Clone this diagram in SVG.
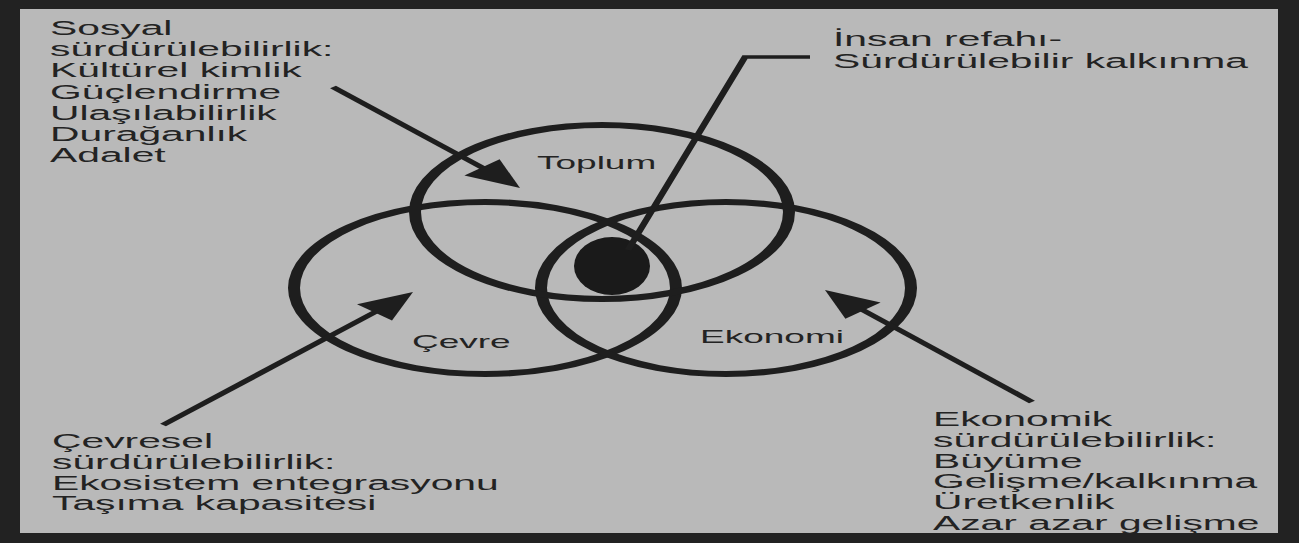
<svg xmlns="http://www.w3.org/2000/svg" width="1299" height="543" viewBox="0 0 1299 543">
<style>
.ring{fill:none;stroke:#1e1e1e;stroke-width:6}
.ln{fill:none;stroke:#1e1e1e;stroke-width:4;stroke-linecap:butt}
.head{fill:#1e1e1e}
.blk{font-family:"Liberation Sans",Arial,sans-serif;font-size:20.4px;fill:#232323}
.lbl{font-family:"Liberation Sans",Arial,sans-serif;font-size:18.5px;fill:#232323}
</style>
<rect x="0" y="0" width="1299" height="543" fill="#222222"/>
<rect x="20" y="9" width="1258" height="524" fill="#b9b9b9"/>

<g id="cevre" transform="scale(2,1)">
<ellipse class="ring" cx="242.5" cy="288" rx="95.5" ry="86"/>
<text class="lbl" x="206" y="348">Çevre</text>
</g>
<g id="ekonomi" transform="scale(2,1)">
<ellipse class="ring" cx="363" cy="288" rx="92.5" ry="86"/>
<text class="lbl" x="350" y="343">Ekonomi</text>
</g>
<g id="toplum" transform="scale(2,1)">
<ellipse class="ring" cx="301" cy="212" rx="93.5" ry="87"/>
<text class="lbl" x="268.5" y="169">Toplum</text>
</g>

<g id="insan-refahi" transform="scale(2,1)">
<ellipse cx="306" cy="266" rx="19" ry="29" fill="#1a1a1a"/>
<text class="blk"><tspan x="416.5" y="46">İnsan refahı-</tspan><tspan x="416.5" y="68">Sürdürülebilir kalkınma</tspan></text>
</g>

<g id="sosyal" transform="scale(2,1)">
<text class="blk">
<tspan x="25" y="35">Sosyal</tspan>
<tspan x="25" y="56.2">sürdürülebilirlik:</tspan>
<tspan x="25" y="77.4">Kültürel kimlik</tspan>
<tspan x="25" y="98.6">Güçlendirme</tspan>
<tspan x="25" y="119.8">Ulaşılabilirlik</tspan>
<tspan x="25" y="141">Durağanlık</tspan>
<tspan x="25" y="162.2">Adalet</tspan>
</text>
</g>

<g id="cevresel" transform="scale(2,1)">
<text class="blk">
<tspan x="26" y="448">Çevresel</tspan>
<tspan x="26" y="468.8">sürdürülebilirlik:</tspan>
<tspan x="26" y="489.6">Ekosistem entegrasyonu</tspan>
<tspan x="26" y="510.4">Taşıma kapasitesi</tspan>
</text>
</g>

<g id="ekonomik" transform="scale(2,1)">
<text class="blk">
<tspan x="466.5" y="426">Ekonomik</tspan>
<tspan x="466.5" y="446.8">sürdürülebilirlik:</tspan>
<tspan x="466.5" y="467.6">Büyüme</tspan>
<tspan x="466.5" y="488.4">Gelişme/kalkınma</tspan>
<tspan x="466.5" y="509.2">Üretkenlik</tspan>
<tspan x="466.5" y="530">Azar azar gelişme</tspan>
</text>
</g>

<g id="connectors" transform="scale(2,1)">
<line class="ln" x1="166.5" y1="87" x2="248" y2="175"/>
<polygon class="head" points="260,188 232.2,175.5 249.8,159.3"/>
<line class="ln" x1="81.5" y1="425" x2="196" y2="303"/>
<polygon class="head" points="206.5,292 196,320.6 178.5,304.2"/>
<line class="ln" x1="516" y1="402" x2="424" y2="302"/>
<polygon class="head" points="412.5,290 440.3,302.4 422.7,318.8"/>
<polyline fill="none" stroke="#1e1e1e" stroke-width="3.5" stroke-linejoin="miter" points="405,57 372.5,57 314,250"/>
</g>
</svg>
